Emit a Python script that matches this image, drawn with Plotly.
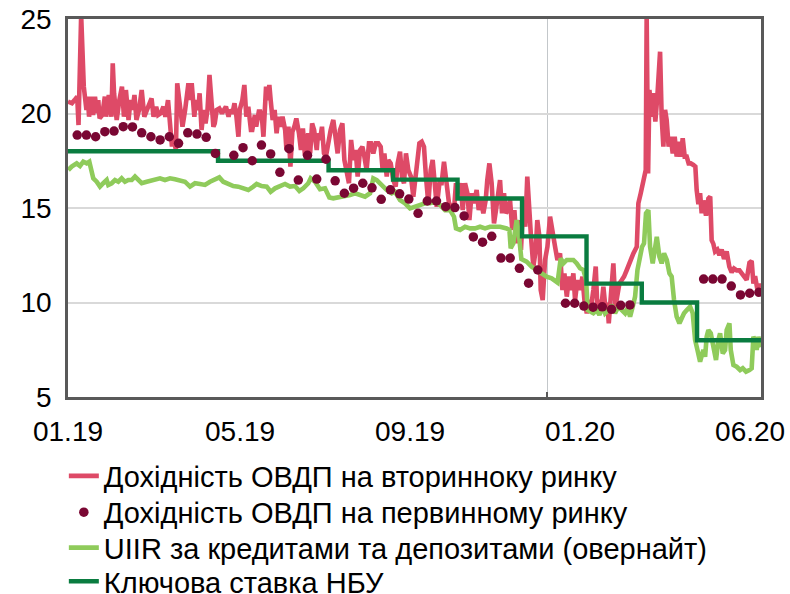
import pandas as pd
import plotly.graph_objects as go

ORIGIN = pd.Timestamp("2019-01-01")

# ---- Secondary-market OVDP yield (days since 2019-01-01, %)
sec_day = [1, 4, 6, 8, 9, 11, 13, 15, 16, 17, 18.5, 20, 21.5, 23, 24, 25, 27, 29, 30, 32,
           34, 35, 36, 38, 40, 42, 43.5, 45, 47, 48.5, 50, 51.5, 53, 55, 57, 59, 61, 62.5, 64.5, 66,
           68, 69.5, 71.5, 73.5, 75, 77, 78.5, 80, 81, 83, 84, 85.5, 87, 88, 90, 91, 92.5, 94, 95, 97,
           98, 100, 101, 102.5, 104, 105.5, 107, 108.5, 110, 111.5, 112.5, 114, 116, 118, 119.5, 121, 123, 124, 126, 127.5,
           129, 130.5, 131.5, 133.5, 135, 136.5, 138, 140, 141, 143, 144, 146, 147, 148.5, 149.5, 151.5, 152.5, 154, 155, 156.5,
           158, 159.5, 161, 162.5, 164, 166, 167, 168.5, 170, 171.5, 173, 174.5, 176.5, 178, 179.5, 181, 182.5, 183.5, 185, 186.5,
           188, 190, 191, 192.5, 194, 195.5, 197, 199,
           200.6, 202.6, 204.4, 205.9, 207.7, 209.5, 211.0, 212.8, 214.5, 216.1, 217.8, 219.6, 221.1, 222.9, 224.7, 226.2, 227.9, 229.7, 231.2, 233.0,
           234.8, 236.8, 238.6, 240.1, 241.4, 243.2, 244.4, 246.2, 248.2, 250.0, 251.5, 253.3, 254.8, 256.3, 257.8, 259.6, 261.6, 263.4, 264.9, 266.5,
           268.0, 269.8, 271.5, 273.0, 274.8, 276.6, 278.1, 279.9, 281.2, 283.2, 284.9, 286.7, 288.7, 290.5, 292.5, 294.3, 295.8, 297.6, 299.4, 300.9,
           302.7, 304.5, 306.0, 307.7, 309.5, 311.5, 313.1, 314.8, 316.6, 318.4, 319.6, 321.2, 322.9, 324.7, 326.2, 328.0, 329.3, 330.8, 332.3, 333.8,
           335.4, 336.9, 338.6, 340.2, 341.9, 343.5, 345.2, 347.0, 348.5, 350.0, 351.6, 352.8, 354.6, 356.4, 357.6, 359.2, 360.2, 361.7,
           363.5, 365.3, 367.3, 369.3, 371.1, 372.9, 374.9, 376.7, 378.2, 380.0, 381.7, 383.3, 385.0, 386.3, 388.1, 390.1, 391.9, 393.4, 395.2, 396.9,
           398.5, 400.2, 402.0, 403.3, 404.8, 406.3, 407.8, 409.3, 410.9, 411.9, 413.4, 415.4, 417.0, 418.5, 420.0, 421.8, 423.5, 425.6, 428.1, 430.6,
           433.2, 434.4, 436.2, 438.2, 440.0, 440.7, 441.8, 442.8, 444.5, 445.8, 447.3, 448.8, 450.9, 452.1, 453.4, 454.7, 455.9, 457.4, 459.0, 460.5,
           462.0, 463.5, 465.1, 466.6, 468.1, 469.6, 471.1, 472.6, 474.2, 476.2, 477.7, 478.7, 480.0, 481.3, 482.5, 483.8, 485.8, 487.6, 489.0, 490.1,
           491.4, 492.7, 494.4, 496.0, 497.7, 499.5, 501.5, 503.5, 505.3, 507.1, 509.1, 511.2, 513.1, 514.7, 516.7, 518.8, 520.5, 521.8, 523.1, 524.8,
           526.4, 528.0]
sec_val = [20.63, 20.54, 20.71, 20.89, 19.39, 25.2, 21.42, 20.19, 20.89, 19.83, 20.89, 19.92, 20.89, 20.01, 20.71, 19.74, 19.92, 20.89, 19.83, 20.98,
           19.83, 22.65, 21.07, 19.66, 20.71, 21.42, 19.83, 21.24, 19.66, 20.71, 20.19, 20.98, 19.66, 20.19, 21.24, 19.83, 20.19, 20.54, 20.80, 19.83,
           20.36, 19.92, 20.01, 20.36, 19.83, 20.71, 19.30, 18.25, 18.77, 18.07, 21.60, 20.89, 20.01, 19.30, 20.19, 20.89, 21.60, 20.71, 21.60, 19.83,
           20.71, 20.19, 21.07, 19.13, 20.19, 19.48, 20.19, 22.04, 20.19, 19.30, 19.48, 20.19, 20.27, 20.01, 20.19, 20.36, 19.83, 20.19, 20.01, 20.54,
           19.83, 18.77, 20.19, 20.71, 21.51, 19.83, 20.36, 19.13, 19.13, 19.92, 19.30, 20.10, 20.10, 19.66, 18.77, 21.42, 20.71, 21.51, 20.71, 19.66,
           20.19, 18.95, 19.83, 19.30, 19.83, 19.13, 18.07, 19.30, 17.19, 19.04, 19.30, 19.74, 18.95, 18.07, 19.21, 17.80, 18.60, 18.95, 17.89, 19.48,
           19.13, 18.07, 18.95, 18.60, 19.30, 17.89, 17.72, 18.60,
           19.13, 19.66, 18.77, 17.89, 19.13, 19.48, 17.54, 16.83, 16.31, 18.60, 17.54, 18.07, 16.66, 18.07, 18.24, 17.72, 17.01, 18.42, 18.42, 17.89,
           18.42, 18.42, 18.24, 17.01, 17.89, 16.66, 17.54, 17.36, 16.48, 16.13, 17.36, 17.98, 16.66, 16.31, 17.89, 17.01, 16.66, 15.60, 16.66, 17.54,
           18.42, 18.51, 18.24, 16.66, 15.25, 17.01, 17.54, 16.13, 15.07, 16.31, 16.31, 17.45, 16.13, 15.25, 15.07, 14.89, 16.31, 15.78, 16.31, 14.89,
           16.31, 15.78, 14.36, 15.78, 15.25, 15.95, 14.89, 15.42, 14.72, 15.42, 16.48, 17.36, 16.31, 14.19, 14.89, 15.78, 16.48, 14.72, 15.78, 14.72,
           14.89, 15.42, 13.84, 14.89, 13.13, 14.36, 12.78, 15.42, 14.01, 16.66, 14.54, 13.48, 11.90, 12.78, 14.36, 13.48, 10.66, 10.13,
           12.25, 12.95, 14.54, 13.84, 12.95, 12.25, 12.60, 10.66, 11.54, 10.31, 11.37, 10.66, 11.54, 10.13, 11.19, 10.66, 11.37, 10.13, 9.43, 10.13,
           9.78, 10.66, 11.90, 9.60, 10.13, 9.78, 10.84, 9.78, 9.96, 8.90, 10.13, 12.07, 9.78, 10.49, 11.01, 11.19, 11.37, 11.72, 12.25, 12.60,
           12.95, 15.25, 15.78, 16.48, 17.01, 25.2, 16.83, 21.24, 19.83, 21.07, 19.57, 20.89, 23.27, 19.83, 18.25, 20.19, 19.66, 18.25, 18.77, 17.89,
           18.77, 17.72, 18.50, 17.72, 18.69, 17.72, 17.72, 17.36, 17.36, 17.28, 17.19, 15.95, 15.20, 15.78, 14.72, 15.40, 14.60, 15.50, 15.60, 13.30,
           13.10, 12.70, 12.80, 12.50, 12.80, 12.30, 12.70, 11.90, 11.60, 11.80, 11.70, 11.70, 11.55, 11.40, 11.20, 12.10, 12.20, 11.00, 11.40, 10.70,
           10.90, 10.90]

# ---- Primary-market OVDP yield (weekly auctions: week index from 2019-01-09, %)
prim_week = [0, 1, 2, 3, 4, 5, 6, 7, 8, 9, 10, 11, 12, 13, 14, 15,
             17, 18, 19, 20, 21, 22, 23, 24, 25, 26, 27, 28, 29, 30, 31, 32, 33,
             34, 35, 36, 37, 38, 39, 40, 41, 42, 43, 44, 45, 46, 47, 48, 49, 50,
             53, 54, 55, 56, 57, 58, 59, 60,
             68, 69, 70, 71, 72, 73, 74]
prim_val = [18.86, 18.86, 18.77, 19.04, 19.07, 19.30, 19.29, 18.98, 18.77, 18.60, 18.77, 18.42, 18.98, 18.91, 18.74, 17.89,
            17.79, 18.19, 17.50, 18.33, 17.86, 16.89, 18.14, 16.48, 17.79, 16.53, 17.58, 16.44, 15.78, 16.05, 16.31, 16.07, 15.46,
            15.96, 15.75, 15.47, 14.72, 15.37, 15.37, 15.07, 15.02, 14.58, 13.47, 13.19, 13.50, 12.35, 12.35, 11.81, 11.02, 11.72,
            9.96, 9.96, 9.81, 9.75, 9.77, 9.64, 9.85, 9.87,
            11.24, 11.24, 11.24, 10.87, 10.40, 10.49, 10.54]

# ---- UIIR overnight (days since 2019-01-01, %)
uiir_day = [1.2, 3.8, 7.6, 10.1, 12.6, 15.2, 17.2, 19.0, 20.2, 22.8, 25.3, 27.8, 30.4, 31.6, 34.2, 36.7, 39.2, 41.8, 44.3, 46.8,
            49.4, 51.9, 54.4, 57.0, 60.8, 64.6, 68.4, 70.9, 74.7, 78.5, 82.3, 86.1, 89.9, 93.7, 97.5, 101.3, 105.1, 108.9, 112.7, 116.0,
            119.0, 122.8, 126.6, 130.4, 134.2, 138.0, 141.8, 144.3, 148.2, 152.0, 155.0, 158.3, 162.1, 165.9, 169.7, 173.5, 176.8, 179.8, 183.6, 185.4,
            188.7, 192.5, 196.3, 199.6, 202.6, 207.7, 211.5, 215.3, 219.1, 222.9, 226.7, 230.5, 233.0, 235.6, 239.4, 243.2, 247.0, 249.5, 253.3, 257.1,
            260.9, 264.7, 268.5, 272.3, 276.1, 279.9, 283.7, 287.5, 291.3, 294.3, 295.8, 298.9, 302.7, 306.5, 310.3, 314.1, 317.9, 321.7, 325.5, 329.3,
            334.3, 336.4, 337.4, 339.4, 341.9, 343.5, 345.5, 349.5, 353.3, 357.1, 361.0, 364.7, 368.5, 371.0, 373.0, 375.4, 377.4, 380.0, 382.5, 385.0,
            387.6, 390.1, 392.6, 394.7, 395.9, 397.7, 400.2, 402.8, 404.8, 407.3, 409.1, 411.6, 414.2, 416.7, 419.2, 421.8, 424.3, 426.1, 428.1, 430.1,
            431.9, 433.7, 435.7, 437.2, 438.7, 440.2, 442.0, 443.3, 445.3, 447.1, 448.4, 450.4, 452.1, 453.9, 456.0, 458.0, 459.7, 461.5, 463.5, 465.6,
            467.3, 469.1, 471.2, 473.7, 475.7, 477.5, 479.3, 481.3, 483.8, 485.1, 486.3, 487.6, 489.4, 491.4, 493.4, 495.2, 496.5, 498.5, 500.3, 501.5,
            503.6, 504.6, 506.6, 509.1, 511.7, 513.7, 516.2, 518.8, 520.5, 521.8, 523.1, 524.3, 525.6, 526.9, 528.1]
uiir_val = [17.01, 17.19, 17.36, 17.22, 17.45, 17.36, 17.45, 16.83, 16.57, 16.39, 16.13, 16.31, 16.48, 16.22, 16.31, 16.48, 16.39, 16.57, 16.39, 16.48,
            16.48, 16.66, 16.48, 16.31, 16.39, 16.48, 16.52, 16.57, 16.48, 16.57, 16.52, 16.48, 16.39, 16.13, 16.31, 16.27, 16.22, 16.39, 16.48, 16.62,
            16.39, 16.27, 16.16, 16.13, 16.04, 15.95, 16.13, 16.27, 16.16, 16.13, 15.86, 16.04, 16.16, 16.27, 16.13, 16.16, 15.90, 16.04, 16.31, 16.57,
            16.39, 15.99, 16.04, 15.56, 15.51, 15.56, 15.64, 15.69, 15.78, 15.69, 15.60, 15.78, 16.57, 16.48, 16.22, 15.95, 15.78, 15.86, 15.42, 15.25,
            14.98, 15.07, 15.16, 15.25, 15.25, 15.34, 15.16, 14.89, 14.89, 14.54, 13.92, 13.84, 14.01, 13.92, 13.92, 14.01, 13.92, 14.01, 14.01, 14.01,
            13.92, 13.84, 12.87, 13.13, 14.36, 13.66, 12.30, 12.16, 11.90, 11.72, 11.54, 11.37, 11.28, 11.15, 11.05, 12.34, 12.07, 12.25, 12.25, 12.25,
            12.07, 11.81, 11.72, 11.19, 9.60, 9.51, 9.43, 9.60, 9.34, 9.78, 9.43, 9.60, 9.87, 9.43, 9.78, 9.60, 9.43, 9.69, 9.25, 9.78,
            10.31, 11.72, 12.60, 12.95, 13.13, 14.72, 14.89, 12.95, 12.07, 12.78, 13.48, 12.42, 12.07, 12.60, 12.25, 11.54, 11.37, 10.13, 9.25, 8.90,
            9.25, 9.43, 9.60, 9.78, 9.43, 8.02, 7.49, 6.87, 7.49, 7.13, 8.19, 8.54, 8.37, 7.49, 6.96, 8.02, 8.37, 7.31, 7.49, 8.54,
            8.90, 7.49, 6.69, 6.60, 6.43, 6.52, 6.34, 6.43, 6.52, 8.19, 8.02, 7.49, 8.19, 7.84, 7.66]

# ---- NBU key policy rate (change dates, %)
key_date = ["2019-01-02", "2019-04-26", "2019-07-19", "2019-09-06", "2019-10-25",
            "2019-12-13", "2020-01-31", "2020-03-13", "2020-04-24", "2020-06-11 14:00"]
key_val = [18.0, 17.5, 17.0, 16.5, 15.5, 13.5, 11.0, 10.0, 8.0, 8.0]

# ---- axis labels
tick_dates = ["2019-01-02", "2019-05-12 17:00", "2019-09-18 22:00", "2020-01-26 02:00", "2020-06-03 07:00"]
tick_text = ["01.19", "05.19", "09.19", "01.20", "06.20"]
x_range = ["2019-01-02", "2020-06-11 14:00"]

names = ["Дохідність ОВДП на вторинноку ринку",
         "Дохідність ОВДП на первинному ринку",
         "UIIR за кредитами та депозитами (овернайт)",
         "Ключова ставка НБУ"]

RED = "#DE4A67"
MAROON = "#7A0733"
LIGHT = "#8FCB5B"
DARK = "#0A7C40"
FONT = "Liberation Sans, Arial, sans-serif"


def to_dates(days):
    return ORIGIN + pd.to_timedelta(days, unit="D")


prim_dates = pd.Timestamp("2019-01-09") + pd.to_timedelta([7 * w for w in prim_week], unit="D")

fig = go.Figure()
fig.add_trace(go.Scatter(x=to_dates(sec_day), y=sec_val, mode="lines", name=names[0],
                         line=dict(color=RED, width=4.6), legend="legend"))
fig.add_trace(go.Scatter(x=to_dates(uiir_day), y=uiir_val, mode="lines", name=names[2],
                         line=dict(color=LIGHT, width=4.6), legend="legend3"))
fig.add_trace(go.Scatter(x=key_date, y=key_val, mode="lines", name=names[3],
                         line=dict(color=DARK, width=4.4, shape="hv"), legend="legend4"))
fig.add_trace(go.Scatter(x=prim_dates, y=prim_val, mode="markers", name=names[1],
                         marker=dict(color=MAROON, size=9.5), legend="legend2"))

leg_font = dict(family=FONT, size=29, color="black")


def leg(ypos):
    return dict(orientation="v", x=-0.006, xanchor="left", y=ypos, yanchor="middle",
                font=leg_font, bgcolor="rgba(0,0,0,0)", itemwidth=30)


fig.update_layout(
    width=790, height=594,
    margin=dict(l=68, r=29, t=19, b=197, autoexpand=False),
    paper_bgcolor="white", plot_bgcolor="white",
    font=dict(family=FONT, size=28, color="black"),
    showlegend=True,
    legend=leg(-0.209), legend2=leg(-0.305), legend3=leg(-0.399), legend4=leg(-0.488),
    xaxis=dict(type="date", range=x_range, tickmode="array", tickvals=tick_dates, ticktext=tick_text,
               automargin=False, showgrid=False, ticks="", showline=True, linecolor="#595959",
               linewidth=2.5, mirror=True, ticklabeloverflow="allow",
               tickfont=dict(family=FONT, size=28, color="black"), ticklabelstandoff=8,
               minor=dict(tickmode="array", tickvals=["2020-01-01"], showgrid=True, gridcolor="#C3C7CA",
                          gridwidth=1.2, ticks="inside", ticklen=5, tickcolor="#595959", tickwidth=2)),
    yaxis=dict(range=[5, 25], tickmode="array", tickvals=[5, 10, 15, 20, 25], showgrid=True,
               automargin=False, gridcolor="#D9D9D9", gridwidth=1.5, zeroline=False, ticks="",
               showline=True, linecolor="#595959", linewidth=2.5, mirror=True, ticklabeloverflow="allow",
               tickfont=dict(family=FONT, size=28, color="black"), ticklabelstandoff=8),
)

# remove the page's default body margin so the 790x594 figure fills the window exactly
fig.write_html("out.html", config={"displayModeBar": False},
               post_script="document.body.style.margin='0';document.body.style.overflow='hidden';")
